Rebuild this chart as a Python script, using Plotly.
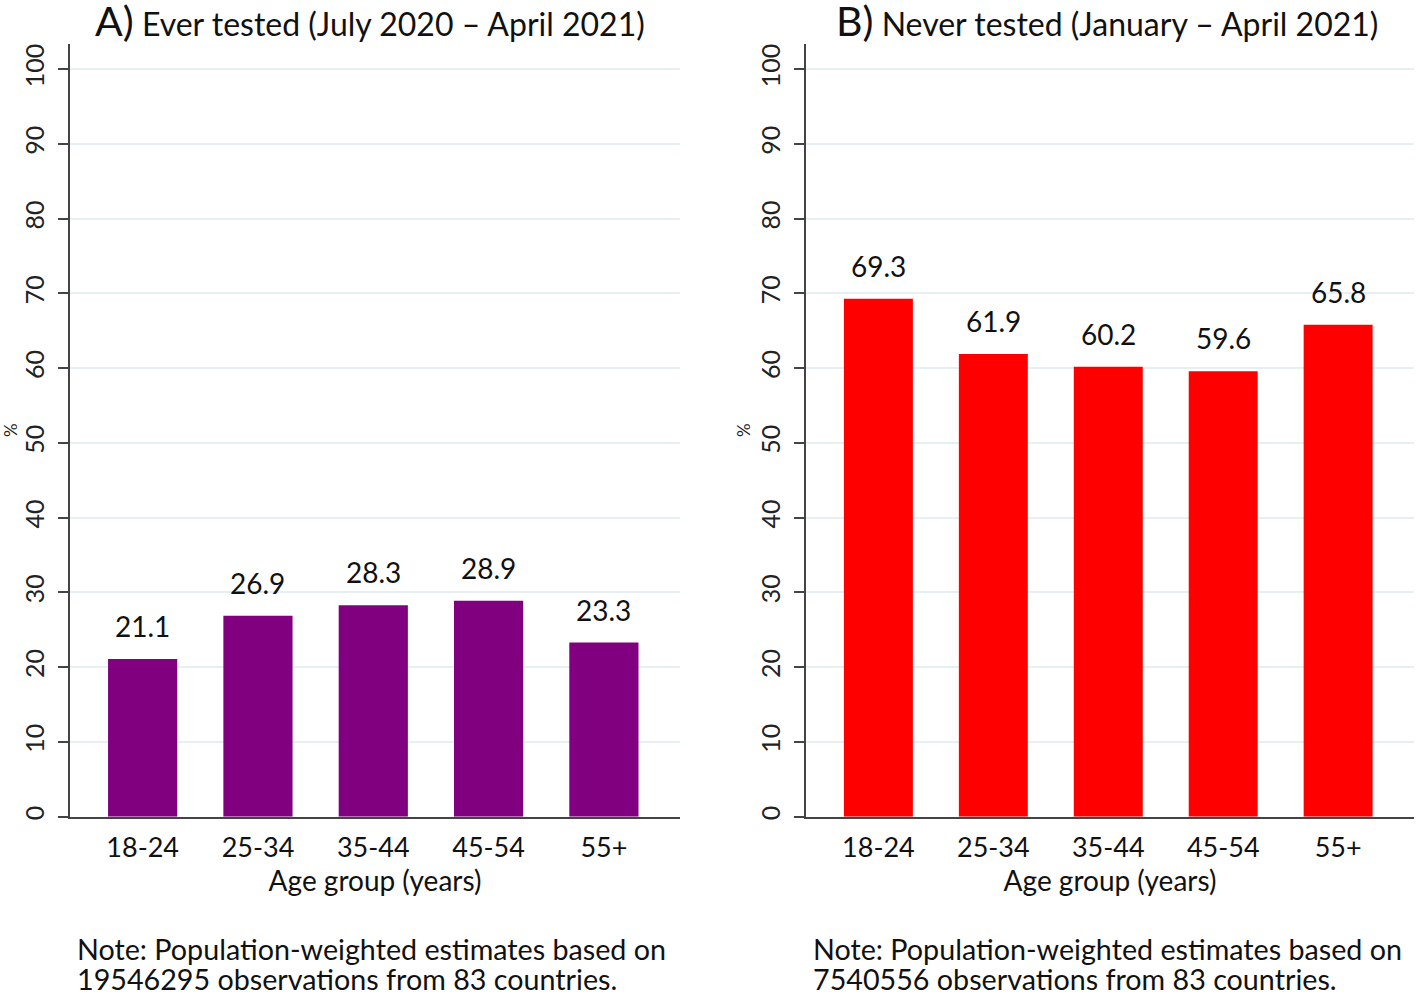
import plotly.graph_objects as go

age_groups = ["18-24", "25-34", "35-44", "45-54", "55+"]
ever_tested = [21.1, 26.9, 28.3, 28.9, 23.3]
never_tested = [69.3, 61.9, 60.2, 59.6, 65.8]
y_ticks = [0, 10, 20, 30, 40, 50, 60, 70, 80, 90, 100]

W, H = 1416, 995
FONT = "Lato, Carlito, Calibri, sans-serif"
TXT = "#111111"

fig = go.Figure()

panels = [
    (ever_tested, "#800080", "x", "y"),
    (never_tested, "#ff0000", "x2", "y2"),
]
for vals, col, xa, ya in panels:
    fig.add_trace(go.Bar(x=age_groups, y=vals, marker_color=col,
                         marker_line_width=0, width=0.6,
                         xaxis=xa, yaxis=ya, hoverinfo="x+y"))
    for cat, v in zip(age_groups, vals):
        fig.add_annotation(x=cat, y=v, xref=xa, yref=ya, text=f"{v:.1f}",
                           showarrow=False, yanchor="bottom", yshift=14,
                           font=dict(size=28, color=TXT, family=FONT))


def px_x(p):
    return p / W


def px_y(p):
    return 1 - p / H


ydom = [px_y(820), px_y(44)]
yr = [0, 103.4]

xaxis_common = dict(
    range=[-0.63, 4.66], showline=True, linecolor="#444444", linewidth=2,
    ticks="", showgrid=False, tickfont=dict(size=27, color=TXT, family=FONT),
    ticklabelstandoff=6,
    title=dict(text="Age group (years)", font=dict(size=28, color=TXT, family=FONT), standoff=2),
)
yaxis_common = dict(
    range=yr, domain=ydom, tickvals=y_ticks, tickangle=-90,
    showline=True, linecolor="#444444", linewidth=2,
    ticks="outside", ticklen=10, tickcolor="#444444", tickwidth=2,
    showgrid=True, gridcolor="#e6eff2", gridwidth=1.5, zeroline=False,
    tickfont=dict(size=25, color="#222222", family=FONT),
    ticklabelstandoff=4,
    title=dict(text="%", font=dict(size=17, color="#222222", family=FONT), standoff=0),
)

fig.update_layout(
    width=W, height=H,
    margin=dict(l=0, r=0, t=0, b=0),
    paper_bgcolor="white", plot_bgcolor="white",
    showlegend=False,
    xaxis=dict(domain=[px_x(70), px_x(680)], anchor="y", **xaxis_common),
    yaxis=dict(anchor="x", **yaxis_common),
    xaxis2=dict(domain=[px_x(806), px_x(1414)], anchor="y2", **xaxis_common),
    yaxis2=dict(anchor="x2", **yaxis_common),
    font=dict(family=FONT),
)

titles = [
    ("A)", "Ever tested (July 2020 \u2013 April 2021)", 370),
    ("B)", "Never tested (January \u2013 April 2021)", 1107),
]
for lab, txt, cx in titles:
    fig.add_annotation(
        text=f"<span style='font-size:41px'>{lab}</span> {txt}",
        x=cx / W, y=1 - 21 / H, xref="paper", yref="paper",
        xanchor="center", yanchor="middle", showarrow=False,
        font=dict(size=32, color=TXT, family=FONT),
    )

notes = [
    (["Note: Population-weighted estimates based on",
      "19546295 observations from 83 countries."], 75),
    (["Note: Population-weighted estimates based on",
      "7540556 observations from 83 countries."], 811),
]
for lines, lx in notes:
    for i, line in enumerate(lines):
        fig.add_annotation(
            text=line, x=lx / W, y=1 - (953 + 30 * i) / H, xref="paper", yref="paper",
            xanchor="left", yanchor="middle", align="left", showarrow=False,
            font=dict(size=28.7, color=TXT, family=FONT),
        )

fig.write_html("out.html", config={"displayModeBar": False},
               post_script="document.body.style.margin='0';")
